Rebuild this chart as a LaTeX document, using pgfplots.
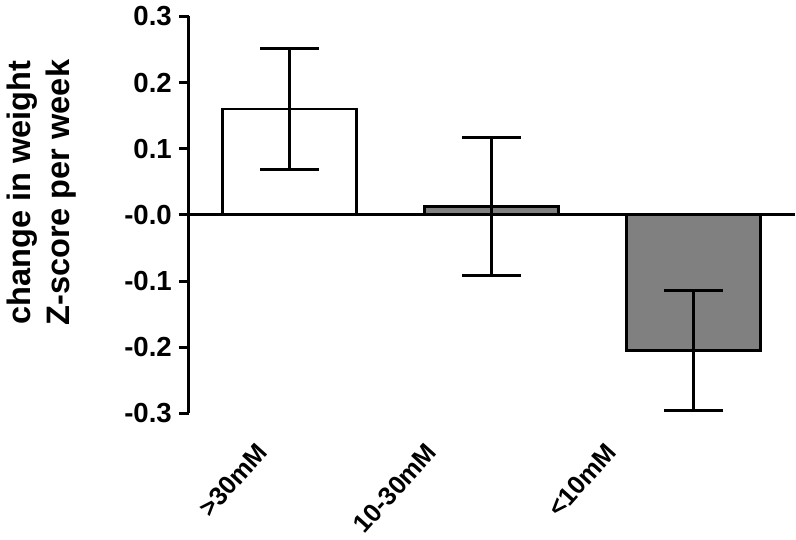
\documentclass[border=0pt]{standalone}
\usepackage{pgfplots}
\pgfplotsset{compat=1.18}
\usepackage{fontspec}
\setmainfont{Liberation Sans}
\definecolor{bargray}{RGB}{128,128,128}

\begin{document}
\begin{tikzpicture}
\begin{axis}[
    scale only axis,
    width=307.5pt, height=201.5pt,
    clip=false,
    xmin=-0.5, xmax=2.5,
    ymin=-0.3, ymax=0.3,
    axis y line=left,
    axis x line=bottom,
    x axis line style={draw=none},
    y axis line style={-, line width=1.5pt},
    ytick={-0.3,-0.2,-0.1,0,0.1,0.2,0.3},
    yticklabels={-0.3,-0.2,-0.1,-0.0,0.1,0.2,0.3},
    tick align=outside,
    major tick length=5pt,
    ytick style={line width=1.5pt, black},
    xtick style={draw=none},
    % labels sit left of the bar centres, as in the original
    xtick={-0.17,0.67,1.56},
    xticklabels={>30mM,10-30mM,<10mM},
    xticklabel shift=9pt,
    xticklabel style={rotate=48, anchor=north east, inner sep=0pt, font=\fontsize{13}{15}\selectfont\bfseries},
    yticklabel style={font=\fontsize{14}{16}\selectfont\bfseries},
    extra y ticks={0},
    extra y tick labels={},
    extra y tick style={grid=major, major grid style={black, line width=1.5pt}, major tick length=0pt},
    ylabel={change in weight\\Z-score per week},
    ylabel style={align=center, font=\fontsize{16.5}{20}\selectfont\bfseries,
        at={(axis description cs:-0.243,0.556)}, anchor=center},
    every axis plot/.append style={ybar, bar width=68pt, draw=black, line width=1.5pt,
        error bars/y dir=both, error bars/y explicit,
        error bars/error bar style={line width=1.5pt},
        error bars/error mark options={rotate=90, mark size=15pt, line width=1.5pt}},
]
\addplot[fill=white] coordinates {(0,0.160) +- (0,0.091)};
\addplot[fill=bargray] coordinates {(1,0.0126) +- (0,0.104)};
\addplot[fill=bargray] coordinates {(2,-0.2046) +- (0,0.091)};
\path (rel axis cs:-0.2927,-0.3176) rectangle (rel axis cs:1.0016,1.032);
\end{axis}
\end{tikzpicture}
\end{document}
